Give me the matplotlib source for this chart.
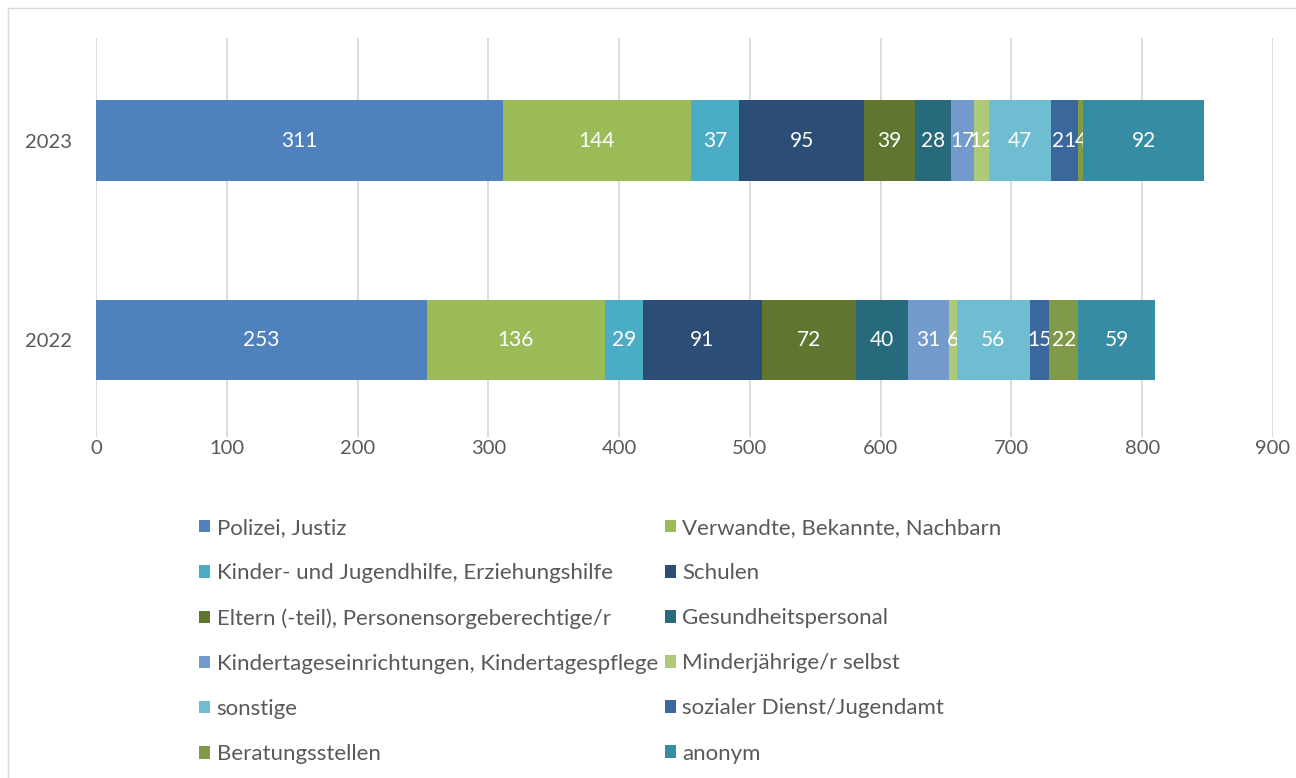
import matplotlib
matplotlib.use("Agg")
import matplotlib.pyplot as plt
from matplotlib.patches import Rectangle, Patch

plt.rcParams['font.family'] = ['Lato', 'DejaVu Sans']

years = ["2022", "2023"]
categories = [
    "Polizei, Justiz",
    "Verwandte, Bekannte, Nachbarn",
    "Kinder- und Jugendhilfe, Erziehungshilfe",
    "Schulen",
    "Eltern (-teil), Personensorgeberechtige/r",
    "Gesundheitspersonal",
    "Kindertageseinrichtungen, Kindertagespflege",
    "Minderjährige/r selbst",
    "sonstige",
    "sozialer Dienst/Jugendamt",
    "Beratungsstellen",
    "anonym",
]
values_2022 = [253, 136, 29, 91, 72, 40, 31, 6, 56, 15, 22, 59]
values_2023 = [311, 144, 37, 95, 39, 28, 17, 12, 47, 21, 4, 92]
colors = ["#4F81BD", "#9BBB59", "#4BACC6", "#2C4D75", "#5F7530", "#276A7C",
          "#729ACA", "#AFC97A", "#6FBDD1", "#3A679C", "#7F9A48", "#358CA3"]
xticks = [0, 100, 200, 300, 400, 500, 600, 700, 800, 900]

W, H = 1296, 778
fig = plt.figure(figsize=(W / 100, H / 100), dpi=100)
fig.patches.append(Rectangle((8 / W, -0.1), 1.2, 1 - 8 / H + 0.1, transform=fig.transFigure,
                             fill=False, edgecolor="#D9D9D9", linewidth=1))

ax = fig.add_axes([96 / W, 1 - 437 / H, (1273 - 96) / W, (437 - 38) / H])

ypos = [0, 1]
left = [0, 0]
handles = []
for i, cat in enumerate(categories):
    vals = [values_2022[i], values_2023[i]]
    bars = ax.barh(ypos, vals, left=left, height=0.405, color=colors[i], label=cat, zorder=3)
    ax.bar_label(bars, labels=[str(v) for v in vals], label_type="center",
                 color="white", fontsize=15)
    left = [left[j] + vals[j] for j in range(2)]
    handles.append(Patch(facecolor=colors[i], label=cat))

ax.set_xlim(0, 900)
ax.set_ylim(-0.486, 1.514)
ax.set_xticks(xticks)
ax.set_yticks(ypos)
ax.set_yticklabels(years)
for s in ax.spines.values():
    s.set_visible(False)
ax.tick_params(axis="both", length=0, labelsize=14.5, labelcolor="#595959")
ax.tick_params(axis="x", pad=2.5)
ax.tick_params(axis="y", pad=17)
ax.xaxis.grid(True, color="#D9D9D9", linewidth=1.3, zorder=0)
ax.set_axisbelow(True)

order = [0, 2, 4, 6, 8, 10, 1, 3, 5, 7, 9, 11]
leg = fig.legend([handles[k] for k in order], [categories[k] for k in order],
                 ncol=2, loc="upper left", bbox_to_anchor=(199 / W, 1 - 518 / H),
                 frameon=False, fontsize=16, labelcolor="#595959",
                 handlelength=0.5, handleheight=0.5, handletextpad=0.3,
                 columnspacing=0.3, labelspacing=1.13, borderpad=0, borderaxespad=0)

fig.savefig("out.png", dpi=100)
